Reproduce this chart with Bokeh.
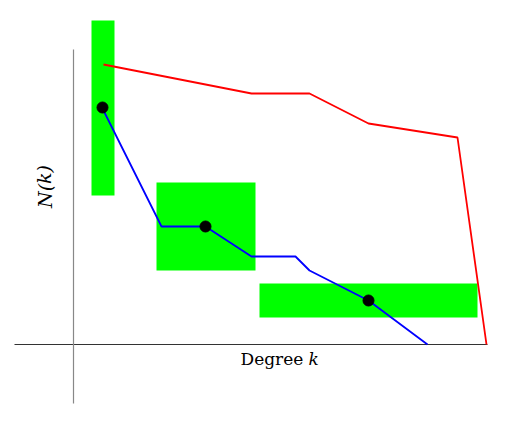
from bokeh.plotting import figure
from bokeh.models import Range1d
from bokeh.core.properties import value
from bokeh.embed import file_html
from bokeh.resources import INLINE

# Data (units: origin at axes crossing)
red_k = [30, 178, 236, 295, 384, 413]
red_n = [280, 251, 251, 221, 207, 0]
blue_k = [29, 88, 132, 178, 222, 236, 295, 354]
blue_n = [236, 118, 118, 88, 88, 74, 44, 0]
dot_k = [29, 132, 295]
dot_n = [237, 118, 44]
box_left = [18, 83, 186]
box_right = [41, 182, 404]
box_bottom = [149, 74, 27]
box_top = [324, 162, 61]

p = figure(width=518, height=423, output_backend="svg", toolbar_location=None,
           x_range=Range1d(-73, 445), y_range=Range1d(-79, 344),
           min_border=0, outline_line_color=None)
p.xaxis.visible = False
p.yaxis.visible = False
p.grid.visible = False

p.quad(left=box_left, right=box_right, bottom=box_bottom, top=box_top,
       fill_color="#00ff00", line_color=None)

# axes
p.segment(x0=[-59], y0=[0], x1=[414], y1=[0], line_color="#333333", line_width=1.2)
p.segment(x0=[0], y0=[-59], x1=[0], y1=[295], line_color="#888888", line_width=1.2)

p.line(red_k, red_n, line_color="#ff0000", line_width=1.8)
p.line(blue_k, blue_n, line_color="#0000ff", line_width=1.8)
p.scatter(dot_k, dot_n, size=11, fill_color="black", line_color="black")

p.text(x=[167], y=[-14], text=["Degree"], text_font=value("DejaVu Serif"),
       text_font_size="17px", text_align="left", text_baseline="middle", text_color="black")
p.text(x=[235], y=[-14], text=["k"], text_font=value("DejaVu Serif"), text_font_style="italic",
       text_font_size="17px", text_align="left", text_baseline="middle", text_color="black")
p.text(x=[-29], y=[158], text=["N(k)"], text_font=value("DejaVu Serif"), text_font_style="italic",
       text_font_size="19px", text_align="center", text_baseline="middle", angle=1.5708,
       text_color="black")

open("out.html", "w").write(file_html(p, INLINE))
